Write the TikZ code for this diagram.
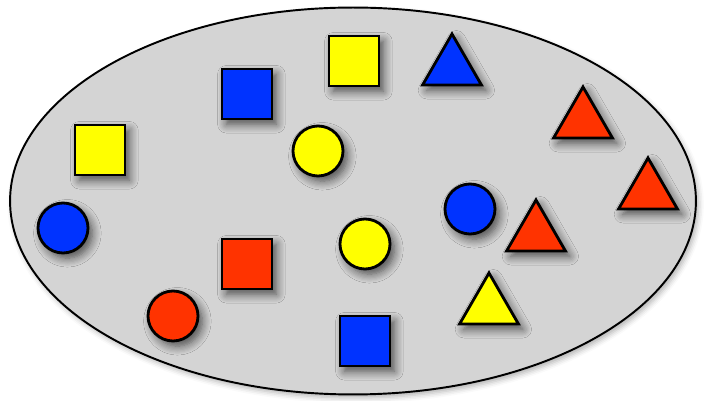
\documentclass[tikz,border=0pt]{standalone}
\usepackage{tikz}
\usetikzlibrary{shapes.geometric,shadows.blur}
\definecolor{setgray}{RGB}{212,212,212}
\definecolor{itemblue}{RGB}{0,51,255}
\definecolor{itemred}{RGB}{255,51,0}
\definecolor{itemyellow}{RGB}{255,255,0}
\tikzset{
  set-region/.style={draw=black, fill=setgray, ellipse, line width=1.1pt, inner sep=0pt,
    blur shadow={shadow xshift=1.5pt, shadow yshift=-2pt, shadow blur radius=3pt, shadow opacity=30}},
  item/.style={draw=black, line width=1.6pt, inner sep=0pt,
    blur shadow={shadow xshift=2.5pt, shadow yshift=-3pt, shadow blur radius=5pt, shadow blur steps=8, shadow opacity=65}},
  item-square/.style={item, rectangle, minimum size=1cm},
  item-circle/.style={item, circle, minimum size=1cm},
  item-triangle/.style={item, regular polygon, regular polygon sides=3, minimum size=1.36cm}
}
\begin{document}
\begin{tikzpicture}[x=0.02cm, y=-0.02cm]
  \useasboundingbox (0,0) rectangle (704,401);
  % the set
  \node[set-region, minimum width=13.72cm, minimum height=7.74cm] (set) at (353,201) {};

  % squares
  \node[item-square, fill=itemyellow] (sqYellowTop) at (354,61) {};
  \node[item-square, fill=itemblue] (sqBlueTop) at (247,94) {};
  \node[item-square, fill=itemyellow] (sqYellowLeft) at (100,150) {};
  \node[item-square, fill=itemred] (sqRed) at (247,264) {};
  \node[item-square, fill=itemblue] (sqBlueBottom) at (365,341) {};

  % circles
  \node[item-circle, fill=itemyellow] (dotYellowTop) at (318,151) {};
  \node[item-circle, fill=itemblue] (dotBlueLeft) at (63,228) {};
  \node[item-circle, fill=itemyellow] (dotYellowMid) at (365,244) {};
  \node[item-circle, fill=itemblue] (dotBlueRight) at (470,209) {};
  \node[item-circle, fill=itemred] (dotRed) at (173,316) {};

  % triangles
  \node[item-triangle, fill=itemblue] (triBlue) at (452,68) {};
  \node[item-triangle, fill=itemred] (triRedTop) at (583,121) {};
  \node[item-triangle, fill=itemred] (triRedRight) at (648,192) {};
  \node[item-triangle, fill=itemred] (triRedMid) at (536,234) {};
  \node[item-triangle, fill=itemyellow] (triYellow) at (489,307) {};
\end{tikzpicture}
\end{document}
